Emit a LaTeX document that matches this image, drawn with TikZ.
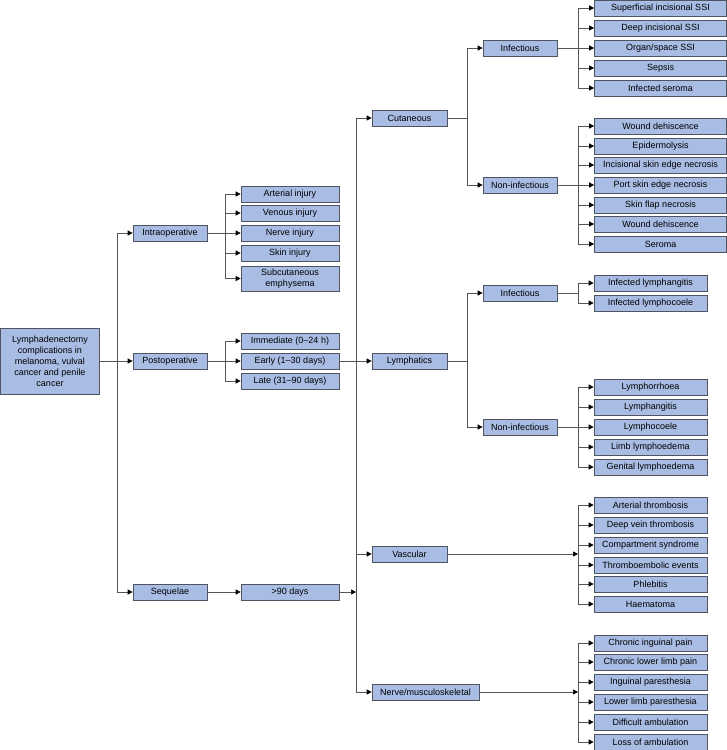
\documentclass[tikz,border=0pt]{standalone}
\usepackage{fontspec}
\setmainfont{Liberation Sans}
\usetikzlibrary{arrows.meta}
\definecolor{boxfill}{RGB}{168,188,228}
\definecolor{boxline}{RGB}{80,84,96}
\definecolor{wire}{RGB}{85,85,85}
\begin{document}
\begin{tikzpicture}[x=1pt,y=-1pt,
  every node/.style={font=\fontsize{9}{11}\selectfont},
  box/.style={draw=boxline,fill=boxfill,line width=0.7pt,inner sep=1pt,minimum height=16pt,align=center},
  lvlone/.style={box,minimum width=74pt},
  lvltwo/.style={box,minimum width=98pt},
  catbox/.style={box,minimum width=75pt},
  leafwide/.style={box,minimum width=132pt},
  leaf/.style={box,minimum width=113pt},
  wire/.style={draw=wire,line width=0.7pt},
  arr/.style={wire,-{Triangle[length=5pt,width=5pt,color=black]}}]
  \useasboundingbox (0,0) rectangle (727,750);
  % root and first level
  \node[box,minimum width=99pt,minimum height=66pt] (root) at (50,361) {Lymphadenectomy\\complications in\\melanoma, vulval\\cancer and penile\\cancer};
  \node[lvlone] (intra) at (170,233) {Intraoperative};
  \node[lvlone] (post) at (170,361) {Postoperative};
  \node[lvlone] (seq) at (170,592) {Sequelae};
  \coordinate (jroot) at (117,361);
  \draw[wire] (root) -- (jroot);
  \draw[arr] (jroot) |- (intra); \draw[arr] (jroot) -- (post); \draw[arr] (jroot) |- (seq);
  % intraoperative
  \node[lvltwo] (i1) at (290,194) {Arterial injury};
  \node[lvltwo] (i2) at (290,213) {Venous injury};
  \node[lvltwo] (i3) at (290,233) {Nerve injury};
  \node[lvltwo] (i4) at (290,253) {Skin injury};
  \node[lvltwo,minimum height=25pt] (i5) at (290,278.5) {Subcutaneous\\emphysema};
  \coordinate (jintra) at (225,233);
  \draw[wire] (intra) -- (jintra);
  \draw[arr] (jintra) |- (i1); \draw[arr] (jintra) |- (i2); \draw[arr] (jintra) -- (i3); \draw[arr] (jintra) |- (i4); \draw[arr] (jintra) |- (i5);
  % postoperative and sequelae
  \node[lvltwo] (p1) at (290,341) {Immediate (0--24 h)};
  \node[lvltwo] (p2) at (290,361) {Early (1--30 days)};
  \node[lvltwo] (p3) at (290,381) {Late (31--90 days)};
  \coordinate (jpost) at (225,361);
  \draw[wire] (post) -- (jpost);
  \draw[arr] (jpost) |- (p1); \draw[arr] (jpost) -- (p2); \draw[arr] (jpost) |- (p3);
  \node[lvltwo] (late) at (290,592) {>90 days};
  \draw[arr] (seq) -- (late);
  % categories
  \node[catbox] (cut) at (409.5,118) {Cutaneous};
  \node[catbox] (lymph) at (409.5,361) {Lymphatics};
  \node[catbox] (vasc) at (409.5,554) {Vascular};
  \node[box,minimum width=107pt] (nerve) at (425.5,692) {Nerve/musculoskeletal};
  \coordinate (jcat) at (356,118);
  \coordinate (jcatend) at (356,692);
  \coordinate (jlate) at (356,592);
  \draw[wire] (jcat) -- (jcatend);
  \draw[arr] (jcat) -- (cut); \draw[arr] (p2) -- (lymph); \draw[arr] (356,554) -- (vasc); \draw[arr] (jcatend) -- (nerve);
  \draw[arr] (late) -- (jlate);
  % cutaneous
  \node[lvlone] (cinf) at (520,48) {Infectious};
  \node[lvlone] (cninf) at (520,185) {Non-infectious};
  \coordinate (jcut) at (467,118);
  \draw[wire] (cut) -- (jcut);
  \draw[arr] (jcut) |- (cinf); \draw[arr] (jcut) |- (cninf);
  \node[leafwide] (ci1) at (660.5,8) {Superficial incisional SSI};
  \node[leafwide] (ci2) at (660.5,28) {Deep incisional SSI};
  \node[leafwide] (ci3) at (660.5,48) {Organ/space SSI};
  \node[leafwide] (ci4) at (660.5,68) {Sepsis};
  \node[leafwide] (ci5) at (660.5,88) {Infected seroma};
  \coordinate (jcinf) at (578,48);
  \draw[wire] (cinf) -- (jcinf);
  \draw[arr] (jcinf) |- (ci1); \draw[arr] (jcinf) |- (ci2); \draw[arr] (jcinf) -- (ci3); \draw[arr] (jcinf) |- (ci4); \draw[arr] (jcinf) |- (ci5);
  \node[leafwide] (cn1) at (660.5,126) {Wound dehiscence};
  \node[leafwide] (cn2) at (660.5,146) {Epidermolysis};
  \node[leafwide] (cn3) at (660.5,165) {Incisional skin edge necrosis};
  \node[leafwide] (cn4) at (660.5,185) {Port skin edge necrosis};
  \node[leafwide] (cn5) at (660.5,205) {Skin flap necrosis};
  \node[leafwide] (cn6) at (660.5,224) {Wound dehiscence};
  \node[leafwide] (cn7) at (660.5,244) {Seroma};
  \coordinate (jcninf) at (578,185);
  \draw[wire] (cninf) -- (jcninf);
  \draw[arr] (jcninf) |- (cn1); \draw[arr] (jcninf) |- (cn2); \draw[arr] (jcninf) |- (cn3); \draw[arr] (jcninf) -- (cn4);
  \draw[arr] (jcninf) |- (cn5); \draw[arr] (jcninf) |- (cn6); \draw[arr] (jcninf) |- (cn7);
  % lymphatics
  \node[lvlone] (linf) at (520,293) {Infectious};
  \node[lvlone] (lninf) at (520,427) {Non-infectious};
  \coordinate (jlymph) at (467,361);
  \draw[wire] (lymph) -- (jlymph);
  \draw[arr] (jlymph) |- (linf); \draw[arr] (jlymph) |- (lninf);
  \node[leaf] (li1) at (650.5,283) {Infected lymphangitis};
  \node[leaf] (li2) at (650.5,303) {Infected lymphocoele};
  \coordinate (jlinf) at (578,293);
  \draw[wire] (linf) -- (jlinf);
  \draw[arr] (jlinf) |- (li1); \draw[arr] (jlinf) |- (li2);
  \node[leaf] (ln1) at (650.5,387) {Lymphorrhoea};
  \node[leaf] (ln2) at (650.5,407) {Lymphangitis};
  \node[leaf] (ln3) at (650.5,427) {Lymphocoele};
  \node[leaf] (ln4) at (650.5,447) {Limb lymphoedema};
  \node[leaf] (ln5) at (650.5,467) {Genital lymphoedema};
  \coordinate (jlninf) at (578,427);
  \draw[wire] (lninf) -- (jlninf);
  \draw[arr] (jlninf) |- (ln1); \draw[arr] (jlninf) |- (ln2); \draw[arr] (jlninf) -- (ln3); \draw[arr] (jlninf) |- (ln4); \draw[arr] (jlninf) |- (ln5);
  % vascular
  \node[leaf] (v1) at (650.5,505) {Arterial thrombosis};
  \node[leaf] (v2) at (650.5,525) {Deep vein thrombosis};
  \node[leaf] (v3) at (650.5,545) {Compartment syndrome};
  \node[leaf] (v4) at (650.5,565) {Thromboembolic events};
  \node[leaf] (v5) at (650.5,584) {Phlebitis};
  \node[leaf] (v6) at (650.5,604) {Haematoma};
  \coordinate (jvasc) at (578,554);
  \draw[arr] (vasc) -- (jvasc);
  \draw[arr] (jvasc) |- (v1); \draw[arr] (jvasc) |- (v2); \draw[arr] (jvasc) |- (v3);
  \draw[arr] (jvasc) |- (v4); \draw[arr] (jvasc) |- (v5); \draw[arr] (jvasc) |- (v6);
  % nerve/musculoskeletal
  \node[leaf] (n1) at (650.5,643) {Chronic inguinal pain};
  \node[leaf] (n2) at (650.5,662) {Chronic lower limb pain};
  \node[leaf] (n3) at (650.5,682) {Inguinal paresthesia};
  \node[leaf] (n4) at (650.5,702) {Lower limb paresthesia};
  \node[leaf] (n5) at (650.5,722) {Difficult ambulation};
  \node[leaf] (n6) at (650.5,742) {Loss of ambulation};
  \coordinate (jnerve) at (578,692);
  \draw[arr] (nerve) -- (jnerve);
  \draw[arr] (jnerve) |- (n1); \draw[arr] (jnerve) |- (n2); \draw[arr] (jnerve) |- (n3);
  \draw[arr] (jnerve) |- (n4); \draw[arr] (jnerve) |- (n5); \draw[arr] (jnerve) |- (n6);
\end{tikzpicture}
\end{document}
